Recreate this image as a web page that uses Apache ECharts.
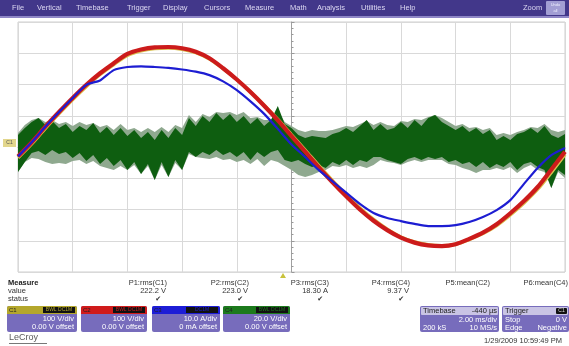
<!DOCTYPE html>
<html>
<head>
<meta charset="utf-8">
<script src="https://cdn.jsdelivr.net/npm/echarts@6/dist/echarts.min.js"></script>
<style>
  html, body { margin: 0; padding: 0; background: #ffffff; }
  #scope { width: 569px; height: 346px; }
</style>
</head>
<body>
<div id="scope"></div>
<script>
// Screen: 10 div x 2 ms/div, centred on the trigger (ms)
const timeMin = -10, timeMax = 10, timeDiv = 2;

// C1 / C2 line voltage (V), one sample every 0.5 ms from -10 ms
const c1Volts = [-34, 10, 60, 107, 152, 194, 232, 264, 293, 308, 315, 317, 313, 302, 282, 251, 216, 177, 134, 88, 39,
  -10, -60, -108, -153, -195, -232, -263, -288, -304, -313, -316, -311, -296, -277, -251, -217, -179, -135, -81, -24];
const c2Volts = [-30, 15, 65, 112, 157, 199, 236, 268, 298, 312, 319, 320, 316, 305, 284, 252, 216, 176, 132, 85, 35,
  -15, -65, -113, -158, -200, -236, -266, -290, -306, -315, -317, -311, -294, -274, -247, -212, -173, -128, -72, -15];
// C3 current (A), same sampling
const c3Amps = [-3, 1.5, 6.5, 11.2, 15.7, 19.9, 21.3, 24.6, 25.6, 25.8, 25.6, 25.3, 24.8, 24.1, 23.0, 21.0, 18.2, 14.6, 10.6, 5.8, 0.8,
  -3.2, -7.4, -11.0, -14.6, -18.2, -21.1, -22.7, -23.7, -24.6, -25.3, -25.3, -25.0, -24.0, -22.4, -20.2, -17.0, -11.8, -6.7, -2.6, -0.3];

// C4 (V): envelope of the noisy trace and of its persistence, one sample every 0.25 ms
const c4DarkHigh = [7.7, 12.2, 16.0, 18.6, 14.1, 16.6, 12.2, 14.7, 9.6, 13.4, 10.9, 15.4, 9.0, 12.8, 7.7, 12.2, 7.0, 10.9, 5.8, 9.6,
  4.5, 10.9, 5.8, 12.2, 7.7, 18.6, 13.4, 19.8, 16.0, 21.8, 17.3, 21.1, 16.0, 19.8, 14.7, 18.6, 13.4, 17.3, 26.2, 14.7,
  12.2, 7.7, 5.8, 7.0, 6.4, 5.8, 8.3, 9.6, 12.2, 9.6, 13.4, 17.3, 10.9, 14.7, 10.9, 12.2, 16.0, 12.2, 17.3, 13.4,
  18.6, 20.5, 16.0, 13.4, 10.9, 13.4, 9.6, 12.2, 8.3, 10.9, 4.5, 7.0, 4.5, 8.3, 9.6, 12.2, 9.0, 13.4, 7.7, 5.8, 8.3];
const c4DarkLow = [-16.0, -9.6, -3.8, -2.5, -5.1, -1.9, -4.5, -3.2, -7.0, -3.8, -9.0, -5.1, -10.9, -7.0, -12.2, -8.3, -14.7, -9.6, -17.3, -10.9,
  -21.1, -9.6, -19.2, -8.3, -14.7, -3.2, -6.4, -3.2, -5.1, -1.9, -5.1, -3.2, -6.4, -3.2, -8.3, -3.2, -6.4, -3.2, -1.9, -8.3,
  -9.6, -8.3, -10.9, -12.8, -11.5, -13.4, -9.6, -11.5, -8.3, -11.5, -8.3, -9.6, -6.4, -6.4, -8.3, -9.6, -10.9, -7.7, -6.4, -8.3,
  -6.4, -7.7, -6.4, -9.6, -8.3, -10.9, -9.6, -12.8, -9.6, -13.4, -10.9, -12.8, -9.6, -14.7, -10.9, -9.6, -12.8, -14.7, -26.2, -14.7, -17.9];
const c4PersistHigh = [9.0, 14.1, 17.3, 18.6, 16.0, 17.3, 14.7, 16.0, 13.4, 16.0, 14.1, 15.4, 12.8, 14.1, 10.9, 14.7, 10.9, 12.2, 9.6, 12.2,
  9.6, 12.8, 9.6, 14.1, 12.2, 20.5, 16.0, 21.1, 19.2, 22.4, 21.8, 22.4, 20.5, 22.4, 18.6, 19.2, 17.3, 17.3, 23.7, 16.0,
  13.4, 10.9, 9.6, 10.9, 10.2, 10.2, 10.9, 12.2, 13.4, 12.8, 14.7, 16.6, 14.1, 16.0, 14.1, 13.4, 16.6, 16.0, 17.9, 17.3,
  19.2, 20.5, 18.6, 16.0, 13.4, 14.7, 12.2, 12.8, 10.9, 12.2, 7.7, 9.0, 7.7, 9.6, 10.9, 12.8, 12.2, 14.7, 10.9, 9.6, 10.9];
const c4PersistLow = [-16.0, -9.6, -7.0, -7.7, -9.6, -10.9, -10.2, -10.9, -9.0, -8.3, -10.9, -9.0, -12.2, -13.4, -14.7, -12.2, -14.7, -11.5, -17.3, -12.2,
  -21.1, -11.5, -19.2, -10.2, -14.7, -4.5, -6.4, -7.0, -7.7, -6.4, -8.3, -7.7, -9.6, -8.3, -10.9, -7.7, -12.2, -8.3, -9.6, -12.2,
  -14.7, -17.9, -19.2, -17.9, -16.0, -14.7, -12.2, -12.8, -11.5, -13.4, -12.2, -13.4, -11.5, -8.3, -9.6, -10.2, -11.5, -9.6, -8.3, -9.6,
  -8.3, -8.3, -8.3, -10.9, -11.5, -13.4, -14.7, -16.6, -14.7, -14.7, -13.4, -14.7, -12.8, -16.6, -13.4, -11.5, -14.7, -16.0, -26.2, -16.0, -19.8];

// Measurement readout
const measureNames = ['P1:rms(C1)', 'P2:rms(C2)', 'P3:rms(C3)', 'P4:rms(C4)', 'P5:mean(C2)', 'P6:mean(C4)'];
const measureValues = ['222.2 V', '223.0 V', '18.30 A', '9.37 V', '', ''];
const measureRight = [167, 249, 329, 410, 490, 568];

// Channel descriptor boxes
const channelNames = ['C1', 'C2', 'C3', 'C4'];
const channelScale = ['100 V/div', '100 V/div', '10.0 A/div', '20.0 V/div'];
const channelOffset = ['0.00 V offset', '0.00 V offset', '0 mA offset', '0.00 V offset'];
const channelColors = ['#b4a72c', '#d01b1b', '#1d1dd6', '#1c7a1c'];
const channelBadge = ['BWL DC1M', 'BWL DC1M', 'DC1M', 'BWL DC1M'];

const menuItems = ['File', 'Vertical', 'Timebase', 'Trigger', 'Display', 'Cursors', 'Measure', 'Math', 'Analysis', 'Utilities', 'Help'];
const menuX = [12, 37, 76, 127, 163, 204, 245, 290, 317, 361, 400];

function sampleTimes(step, count) {
  const t = [];
  for (let i = 0; i < count; i++) t.push(timeMin + i * step);
  return t;
}
const tCoarse = sampleTimes(0.5, c2Volts.length);
const tFine = sampleTimes(0.25, c4DarkHigh.length);
const pairs = (ts, vs) => vs.map((v, i) => [ts[i], v]);

function band(high, low, fill) {
  return function (params, api) {
    const pts = [];
    for (let i = 0; i < high.length; i++) pts.push(api.coord([tFine[i], high[i]]));
    for (let i = low.length - 1; i >= 0; i--) pts.push(api.coord([tFine[i], low[i]]));
    return { type: 'polygon', shape: { points: pts }, style: { fill: fill } };
  };
}

const FONT = '"Liberation Sans", Arial, sans-serif';
const graphics = [];
// menu bar
graphics.push({ type: 'rect', shape: { x: 0, y: 0, width: 569, height: 16 }, style: { fill: '#42378a' }, silent: true });
graphics.push({ type: 'rect', shape: { x: 0, y: 16, width: 569, height: 2 }, style: { fill: '#8e86c6' }, silent: true });
menuItems.forEach((m, i) => graphics.push({ type: 'text', x: menuX[i], y: 8,
  style: { text: m, fill: '#dcd8f2', font: '7.5px ' + FONT, textVerticalAlign: 'middle' } }));
graphics.push({ type: 'text', x: 523, y: 8, style: { text: 'Zoom', fill: '#dcd8f2', font: '7.5px ' + FONT, textVerticalAlign: 'middle' } });
graphics.push({ type: 'rect', shape: { x: 546, y: 1, width: 19, height: 14, r: 1 }, style: { fill: '#a29ed4' } });
graphics.push({ type: 'text', x: 555.5, y: 5, style: { text: 'Undo', fill: '#eeeeff', font: '4px ' + FONT, textAlign: 'center', textVerticalAlign: 'middle' } });
graphics.push({ type: 'text', x: 555.5, y: 11, style: { text: 'all', fill: '#eeeeff', font: '4px ' + FONT, textAlign: 'center', textVerticalAlign: 'middle' } });

// trace level tag on the left edge and trigger position marker
graphics.push({ type: 'rect', shape: { x: 3, y: 139, width: 13, height: 8 }, style: { fill: '#e2d68c' } });
graphics.push({ type: 'text', x: 9.5, y: 143, style: { text: 'C1', fill: '#555', font: '5px ' + FONT, textAlign: 'center', textVerticalAlign: 'middle' } });
graphics.push({ type: 'polygon', shape: { points: [[280, 278], [286, 278], [283, 273]] }, style: { fill: '#c9c23c' } });

// measurement table
graphics.push({ type: 'text', x: 8, y: 283, style: { text: 'Measure', fill: '#222', font: 'bold 7.5px ' + FONT, textVerticalAlign: 'middle' } });
graphics.push({ type: 'text', x: 8, y: 291, style: { text: 'value', fill: '#333', font: '7.5px ' + FONT, textVerticalAlign: 'middle' } });
graphics.push({ type: 'text', x: 8, y: 299, style: { text: 'status', fill: '#333', font: '7.5px ' + FONT, textVerticalAlign: 'middle' } });
measureNames.forEach((n, i) => {
  graphics.push({ type: 'text', x: measureRight[i], y: 283, style: { text: n, fill: '#333', font: '7.5px ' + FONT, textAlign: 'right', textVerticalAlign: 'middle' } });
  if (measureValues[i]) {
    graphics.push({ type: 'text', x: measureRight[i] - 1, y: 291, style: { text: measureValues[i], fill: '#333', font: '7.5px ' + FONT, textAlign: 'right', textVerticalAlign: 'middle' } });
    graphics.push({ type: 'text', x: measureRight[i] - 6, y: 299.5, style: { text: '\u2714', fill: '#333', font: '7px "DejaVu Sans"', textAlign: 'right', textVerticalAlign: 'middle' } });
  }
});

// channel descriptor boxes
const boxX = [7, 81, 152, 223], boxW = [70, 66, 68, 67];
channelNames.forEach((c, i) => {
  const x = boxX[i], w = boxW[i];
  graphics.push({ type: 'rect', shape: { x: x, y: 306, width: w, height: 26, r: 2 }, style: { fill: '#776cbc' } });
  graphics.push({ type: 'rect', shape: { x: x, y: 306, width: w, height: 8, r: [2, 2, 0, 0] }, style: { fill: channelColors[i] } });
  graphics.push({ type: 'rect', shape: { x: x + w - 34, y: 307, width: 32, height: 6 }, style: { fill: '#111' } });
  graphics.push({ type: 'text', x: x + 2, y: 310, style: { text: c, fill: '#222', font: '6px ' + FONT, textVerticalAlign: 'middle' } });
  graphics.push({ type: 'text', x: x + w - 18, y: 310, style: { text: channelBadge[i], fill: channelColors[i], font: '5px ' + FONT, textAlign: 'center', textVerticalAlign: 'middle' } });
  graphics.push({ type: 'text', x: x + w - 3, y: 319, style: { text: channelScale[i], fill: '#fff', font: '7.5px ' + FONT, textAlign: 'right', textVerticalAlign: 'middle' } });
  graphics.push({ type: 'text', x: x + w - 3, y: 327, style: { text: channelOffset[i], fill: '#fff', font: '7.5px ' + FONT, textAlign: 'right', textVerticalAlign: 'middle' } });
});

// timebase and trigger boxes
function infoBox(x, w, title, titleRight, rows) {
  graphics.push({ type: 'rect', shape: { x: x, y: 306, width: w, height: 26, r: 2 }, style: { fill: '#776cbc' } });
  graphics.push({ type: 'rect', shape: { x: x + 1, y: 307, width: w - 2, height: 8, r: 1 }, style: { fill: '#c9c4e4' } });
  graphics.push({ type: 'text', x: x + 3, y: 311, style: { text: title, fill: '#222', font: '7.5px ' + FONT, textVerticalAlign: 'middle' } });
  if (titleRight === 'C1') {
    graphics.push({ type: 'rect', shape: { x: x + w - 13, y: 308, width: 11, height: 6, r: 1 }, style: { fill: '#111' } });
    graphics.push({ type: 'text', x: x + w - 7.5, y: 311, style: { text: 'C1', fill: '#ddd', font: '5px ' + FONT, textAlign: 'center', textVerticalAlign: 'middle' } });
  } else {
    graphics.push({ type: 'text', x: x + w - 2, y: 311, style: { text: titleRight, fill: '#222', font: '7.5px ' + FONT, textAlign: 'right', textVerticalAlign: 'middle' } });
  }
  rows.forEach((r, k) => {
    const y = 319.5 + k * 8;
    if (r[0]) graphics.push({ type: 'text', x: x + 3, y: y, style: { text: r[0], fill: '#fff', font: '7.5px ' + FONT, textVerticalAlign: 'middle' } });
    graphics.push({ type: 'text', x: x + w - 2, y: y, style: { text: r[1], fill: '#fff', font: '7.5px ' + FONT, textAlign: 'right', textVerticalAlign: 'middle' } });
  });
}
infoBox(420, 79, 'Timebase', '-440 \u00b5s', [['', '2.00 ms/div'], ['200 kS', '10 MS/s']]);
infoBox(502, 67, 'Trigger', 'C1', [['Stop', '0 V'], ['Edge', 'Negative']]);

graphics.push({ type: 'text', x: 562, y: 341, style: { text: '1/29/2009 10:59:49 PM', fill: '#333', font: '7.5px ' + FONT, textAlign: 'right', textVerticalAlign: 'middle' } });
graphics.push({ type: 'text', x: 9, y: 338, style: { text: 'LeCroy', fill: '#5a5a5a', font: '9px ' + FONT, textVerticalAlign: 'middle' } });
graphics.push({ type: 'rect', shape: { x: 9, y: 343, width: 38, height: 1 }, style: { fill: '#777' } });

const chart = echarts.init(document.getElementById('scope'), null, { renderer: 'canvas' });
const grid = { left: 18, top: 22, width: 547, height: 250, show: true, borderColor: '#cfcfcf', borderWidth: 1, backgroundColor: '#fff' };
const splitStyle = { show: true, lineStyle: { color: '#d9d9d9', width: 1 } };
chart.setOption({
  animation: false,
  backgroundColor: '#ffffff',
  grid: grid,
  xAxis: {
    type: 'value', min: timeMin, max: timeMax, interval: timeDiv,
    axisLabel: { show: false }, splitLine: splitStyle,
    axisLine: { show: true, onZero: true, lineStyle: { color: '#a8a8a8' } },
    axisTick: { show: false },
    minorTick: { show: true, splitNumber: 5, length: 2, lineStyle: { color: '#9a9a9a' } }
  },
  yAxis: [
    { type: 'value', min: -400, max: 400, interval: 100, axisLabel: { show: false }, splitLine: splitStyle,
      axisLine: { show: true, onZero: true, lineStyle: { color: '#a0a0a0' } },
      axisTick: { show: true, inside: true, length: 3, lineStyle: { color: '#999' } },
      minorTick: { show: true, splitNumber: 5, length: 2, lineStyle: { color: '#999' } } },
    { type: 'value', min: -40, max: 40, show: false },
    { type: 'value', min: -80, max: 80, show: false }
  ],
  series: [
    { name: 'C4 persistence', type: 'custom', xAxisIndex: 0, yAxisIndex: 2, data: [[0, 0]], renderItem: band(c4PersistHigh, c4PersistLow, '#8fa98f'), z: 2, silent: true },
    { name: 'C4', type: 'custom', xAxisIndex: 0, yAxisIndex: 2, data: [[0, 0]], renderItem: band(c4DarkHigh, c4DarkLow, '#0e5e10'), z: 3, silent: true },
    { name: 'C1', type: 'line', yAxisIndex: 0, data: pairs(tCoarse, c1Volts), showSymbol: false, smooth: 0.3,
      lineStyle: { color: '#d9c04e', width: 3.5 }, z: 4 },
    { name: 'C2', type: 'line', yAxisIndex: 0, data: pairs(tCoarse, c2Volts), showSymbol: false, smooth: 0.3,
      lineStyle: { color: '#cc1b1b', width: 4.2 }, z: 5 },
    { name: 'C3', type: 'line', yAxisIndex: 1, data: pairs(tCoarse, c3Amps), showSymbol: false, smooth: 0.25,
      lineStyle: { color: '#1d1dd2', width: 2.2 }, z: 6 }
  ],
  graphic: graphics
});
</script>
</body>
</html>
